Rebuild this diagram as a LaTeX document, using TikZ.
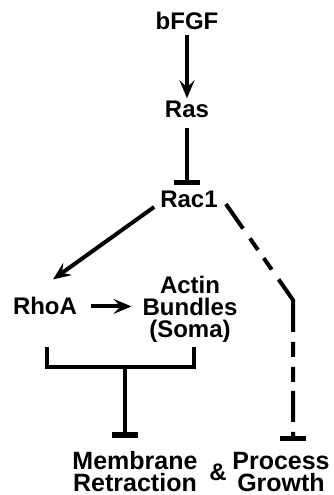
\documentclass[tikz,border=0pt]{standalone}
\usepackage{fontspec}
\setmainfont{Liberation Sans}
\usepackage{tikz}
\usetikzlibrary{arrows.meta,calc}
\definecolor{PathInk}{HTML}{000000}

\begin{document}
\begin{tikzpicture}[x=1pt,y=1pt,
  lbl/.style={font=\fontsize{24}{22}\selectfont\bfseries,inner sep=3pt,text=PathInk},
  act/.style={-{Stealth[length=18pt,width=15pt,inset=7pt]},line width=4pt,draw=PathInk},
  inh/.style={-{Bar[width=26pt,line width=5.5pt]},line width=4pt,draw=PathInk},
  gap/.style={dash pattern=on 30pt off 12pt on 14pt off 10pt on 14pt off 12pt
    on 57pt off 10pt on 15pt off 10pt on 15pt off 9pt on 31pt off 10pt on 12pt off 2pt}]
  \useasboundingbox (0,0) rectangle (333,495);
  % Signalling chain.
  \node[lbl,anchor=base] (bfgf) at (187,465) {bFGF};
  \node[lbl,anchor=base] (ras) at (187,377) {Ras};
  \node[lbl,anchor=base] (rac1) at (189,287) {Rac1};
  \node[lbl,anchor=base] (rhoa) at (45,180) {RhoA};
  \node[lbl,align=center] (actin) at (190,186) {Actin\\Bundles\\(Soma)};
  % Outcomes.
  \node[lbl,align=center,font=\fontsize{25}{22}\selectfont\bfseries]
        (membrane) at (135,23) {Membrane\\Retraction};
  \node[lbl] (and) at (218,23) {\&};
  \node[lbl,align=center,font=\fontsize{25}{22}\selectfont\bfseries]
        (process) at (281,23) {Process\\Growth};
  \coordinate (kink) at (293,195);
  \coordinate (join) at (125,128);
  % Connectors.
  \draw[act,shorten <=2pt] (bfgf.south) -- (ras.north);
  \draw[inh,shorten <=7pt] (ras.south) -- ($(ras.south |- rac1.north)+(0,3)$);
  \draw[act] ($(rac1.base west)+(-3,1)$) -- ($(rhoa.north)+(8,15)$);
  \draw[act,shorten <=11pt,shorten >=8pt] (rhoa.east) -- (rhoa.east -| actin.west);
  \draw[inh,gap] ($(rac1.base east)+(5,4)$) -- (kink)
        -- ($(kink |- process.north)+(0,8)$);
  % Bracket onto membrane retraction.
  \draw[line width=3.5pt,draw=PathInk] ($(rhoa.south)+(2,-29)$) |- (join)
        -| ($(actin.south)+(4,-2)$);
  \draw[inh] (join) -- ($(join |- membrane.north)+(0,11)$);
\end{tikzpicture}
\end{document}
